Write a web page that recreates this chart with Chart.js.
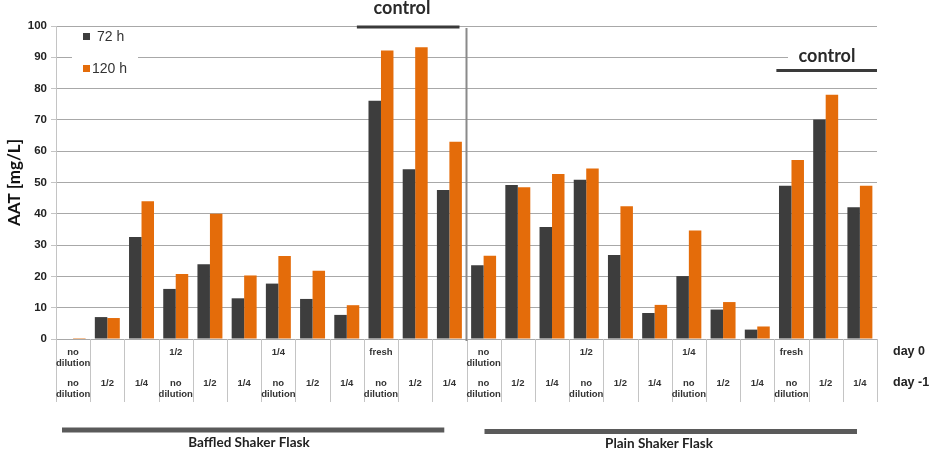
<!DOCTYPE html>
<html>
<head>
<meta charset="utf-8">
<script src="https://cdn.jsdelivr.net/npm/chart.js@4.4.1/dist/chart.umd.min.js"></script>
<style>
  html, body { margin: 0; padding: 0; background: #fff; }
  #wrap { width: 932px; height: 457px; }
</style>
</head>
<body>
<div id="wrap"><canvas id="grafica" width="932" height="457"></canvas></div>
<script>
// Datos
const flasks = ['Baffled Shaker Flask', 'Plain Shaker Flask'];
const day0Labels = ['no dilution', '', '', '1/2', '', '', '1/4', '', '', 'fresh', '', '',
                    'no dilution', '', '', '1/2', '', '', '1/4', '', '', 'fresh', '', ''];
const dayM1Labels = ['no dilution', '1/2', '1/4', 'no dilution', '1/2', '1/4', 'no dilution', '1/2', '1/4', 'no dilution', '1/2', '1/4',
                     'no dilution', '1/2', '1/4', 'no dilution', '1/2', '1/4', 'no dilution', '1/2', '1/4', 'no dilution', '1/2', '1/4'];
const seriesNames = ['72 h', '120 h'];
const values72h = [0, 7.0, 32.6, 16.0, 23.9, 13.0, 17.7, 12.8, 7.7, 76.1, 54.2, 47.6,
                   23.6, 49.2, 35.8, 50.9, 26.8, 8.3, 20.1, 9.4, 3.0, 49.0, 70.1, 42.1];
const values120h = [0.3, 6.7, 44.0, 20.8, 40.0, 20.3, 26.5, 21.8, 10.8, 92.2, 93.2, 63.0,
                    26.6, 48.5, 52.7, 54.5, 42.4, 10.9, 34.7, 11.8, 4.0, 57.2, 78.0, 49.0];
const yTicks = [0, 10, 20, 30, 40, 50, 60, 70, 80, 90, 100];
const rowLabels = ['day 0', 'day -1'];
const controlLabel = 'control';

const categorias = dayM1Labels.map((d, i) => `${flasks[i < 12 ? 0 : 1]} | ${day0Labels[i]} | ${d}`);

const colores = ['#3d3d3d', '#e46c0a'];
const fuenteTabla = 'bold 9.5px "Liberation Sans", Arial, sans-serif';

// Plugin para dibujar la tabla de condiciones, leyenda y etiquetas "control"
const decoraciones = {
  id: 'decoraciones',
  beforeDatasetsDraw(chart) {
    const ctx = chart.ctx;
    const area = chart.chartArea;
    ctx.save();
    ctx.fillStyle = '#fff';
    // caja de la leyenda (tapa la línea de 90)
    ctx.fillRect(area.left + 16, area.top + 4, 66, 52);
    // fondo del segundo "control"
    ctx.fillRect(area.right - 89, area.top + 22, 89, 16);
    ctx.restore();
  },
  afterDraw(chart) {
    const ctx = chart.ctx;
    const area = chart.chartArea;
    const n = categorias.length;
    const paso = (area.right - area.left) / n;
    const borde = i => area.left + i * paso;
    const centro = i => chart.scales.x.getPixelForValue(i);
    ctx.save();

    // líneas verticales de la tabla
    ctx.strokeStyle = '#c4c4c4';
    ctx.lineWidth = 1;
    for (let i = 0; i <= n; i++) {
      const x = Math.round(borde(i)) + 0.5;
      ctx.beginPath();
      ctx.moveTo(x, area.bottom);
      ctx.lineTo(x, area.bottom + 63);
      ctx.stroke();
    }

    // separador central
    ctx.strokeStyle = '#8a8a8a';
    ctx.lineWidth = 2;
    ctx.beginPath();
    ctx.moveTo(borde(12), area.top + 2);
    ctx.lineTo(borde(12), area.bottom + 2);
    ctx.stroke();

    // textos de la tabla
    ctx.fillStyle = '#333';
    ctx.font = fuenteTabla;
    ctx.textAlign = 'center';
    ctx.textBaseline = 'middle';
    const filas = [day0Labels, dayM1Labels];
    const yFila = [area.bottom + 13, area.bottom + 44];
    filas.forEach((fila, f) => {
      fila.forEach((txt, i) => {
        if (!txt) return;
        const partes = txt === 'no dilution' ? ['no', 'dilution'] : [txt];
        partes.forEach((p, k) => ctx.fillText(p, centro(i), yFila[f] + k * 11.5));
      });
    });

    // etiquetas de fila
    ctx.font = 'bold 12.5px "Liberation Sans", Arial, sans-serif';
    ctx.textAlign = 'left';
    ctx.fillStyle = '#222';
    ctx.fillText(rowLabels[0], area.right + 16, yFila[0]);
    ctx.fillText(rowLabels[1], area.right + 16, yFila[1]);

    // barras de los matraces
    ctx.strokeStyle = '#5a5a5a';
    ctx.lineWidth = 5;
    ctx.beginPath();
    ctx.moveTo(area.left + 6, 430);
    ctx.lineTo(borde(11) + 12, 430);
    ctx.moveTo(borde(12) + 18, 431.5);
    ctx.lineTo(borde(24) - 20, 431.5);
    ctx.stroke();
    ctx.fillStyle = '#222';
    ctx.font = 'bold 13.5px Lato, "Open Sans", sans-serif';
    ctx.textAlign = 'center';
    ctx.fillText(flasks[0], 249, 443);
    ctx.fillText(flasks[1], 659, 444);

    // etiquetas "control"
    ctx.strokeStyle = '#3a3a3a';
    ctx.lineWidth = 3;
    ctx.beginPath();
    ctx.moveTo(borde(9) - 7, 27);
    ctx.lineTo(borde(12) - 7, 27);
    ctx.moveTo(borde(21) + 2, 70.5);
    ctx.lineTo(borde(24), 70.5);
    ctx.stroke();
    ctx.font = 'bold 18px Lato, "Open Sans", sans-serif';
    ctx.fillStyle = '#2a2a2a';
    ctx.fillText(controlLabel, 402, 8);
    ctx.fillText(controlLabel, 827, 56);

    // leyenda
    ctx.font = '14px "Liberation Sans", Arial, sans-serif';
    ctx.textAlign = 'left';
    chart.data.datasets.forEach((ds, k) => {
      const y = 36 + k * 32;
      ctx.fillStyle = ds.backgroundColor;
      ctx.fillRect(83, y - 3, 7, 7);
      ctx.fillStyle = '#333';
      ctx.fillText(ds.label, k === 0 ? 97 : 92, y + 1);
    });
    ctx.restore();
  }
};

new Chart(document.getElementById('grafica'), {
  type: 'bar',
  data: {
    labels: categorias,
    datasets: [
      { label: seriesNames[0], data: values72h, backgroundColor: colores[0] },
      { label: seriesNames[1], data: values120h, backgroundColor: colores[1] }
    ]
  },
  options: {
    responsive: false,
    animation: false,
    devicePixelRatio: 1,
    layout: { padding: { left: 0, right: 55, top: 26, bottom: 118 } },
    datasets: { bar: { categoryPercentage: 0.73, barPercentage: 1.0 } },
    plugins: {
      legend: { display: false },
      tooltip: { enabled: false }
    },
    scales: {
      x: {
        display: false,
        offset: true
      },
      y: {
        min: 0,
        max: 100,
        afterFit: s => { s.width = 56; },
        afterBuildTicks: s => { s.ticks = yTicks.map(v => ({ value: v })); },
        border: { display: true, color: '#c4c4c4' },
        grid: { color: '#a8a8a8', tickLength: 5, tickColor: '#c4c4c4' },
        ticks: {
          padding: 4,
          color: '#222',
          font: { family: '"Liberation Sans", Arial, sans-serif', size: 11.5, weight: 'bold' }
        },
        title: {
          display: true,
          text: 'AAT [mg/L]',
          color: '#111',
          padding: { top: 4, bottom: 0 },
          font: { family: 'Lato, "Open Sans", sans-serif', size: 17, weight: 'bold' }
        }
      }
    }
  },
  plugins: [decoraciones]
});
</script>
</body>
</html>
